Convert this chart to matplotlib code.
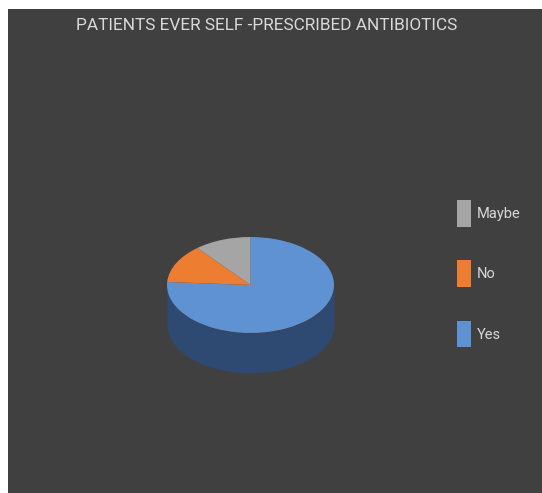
import numpy as np
import matplotlib
matplotlib.use("Agg")
import matplotlib.pyplot as plt
from matplotlib.patches import Rectangle

titulo = "PATIENTS EVER SELF -PRESCRIBED ANTIBIOTICS"
categorias = ["Yes", "No", "Maybe"]
valores = [76, 13, 11]
colores = ["#5f92d3", "#ed7d31", "#a5a5a5"]

W, H = 542, 493
FONDO = "#404040"
TEXTO = "#d9d9d9"
FUENTE = ["Roboto", "Liberation Sans", "DejaVu Sans"]


def caja(x0, y0, x1, y1):
    # pixeles con origen arriba a la izquierda -> coordenadas de figura
    return [x0 / W, 1 - y1 / H, (x1 - x0) / W, (y1 - y0) / H]


fig = plt.figure(figsize=(W / 100, H / 100), dpi=100, facecolor="white")
fig.add_artist(Rectangle((8 / W, 0), 1 - 8 / W, 1 - 9 / H, transform=fig.transFigure,
                         facecolor=FONDO, edgecolor="none", zorder=-5))

# la cara superior ocupa exactamente los ejes, aplastada en vertical
ax = fig.add_axes(caja(167, 237, 334, 333))
ax.patch.set_alpha(0)
cunas, _ = ax.pie(valores, colors=colores, startangle=90, counterclock=False,
                  radius=1, wedgeprops={"clip_on": False, "zorder": 3})
ax.set_aspect("auto")
ax.set_xlim(-1, 1)
ax.set_ylim(-1, 1)
ax.axis("off")

# pared lateral del cilindro
profundidad = 0.83
t = np.linspace(np.pi, 2 * np.pi, 200)
ax.fill_between(np.cos(t), np.sin(t), np.sin(t) - profundidad, color="#2f4a72",
                lw=0, clip_on=False, zorder=1)

fig.text(267 / W, 1 - 25 / H, titulo, color=TEXTO, fontsize=12.4, family=FUENTE,
         ha="center", va="center")

# leyenda en orden inverso, con marcas altas y estrechas
leyenda = fig.legend(cunas[::-1], categorias[::-1], loc="upper left",
                     bbox_to_anchor=(457 / W, 1 - 200 / H), borderaxespad=0, borderpad=0,
                     frameon=False, handlelength=0.95, handleheight=2.45,
                     labelspacing=2.3, handletextpad=0.4, prop={"family": FUENTE, "size": 10.5})
for t_ley in leyenda.get_texts():
    t_ley.set_color(TEXTO)

fig.savefig("out.png", dpi=100, facecolor=fig.get_facecolor())
